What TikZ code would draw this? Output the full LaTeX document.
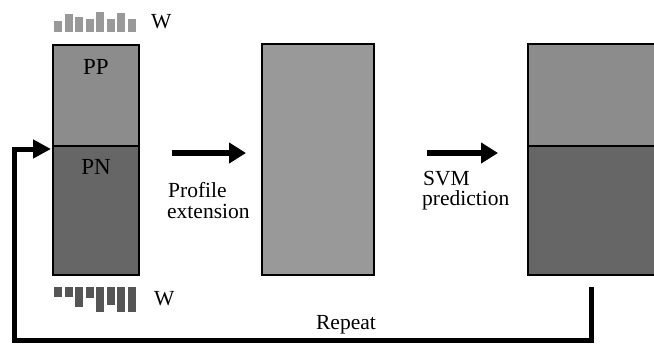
\documentclass[tikz,border=0pt]{standalone}
\usepackage{fontspec}
\setmainfont{Liberation Serif}
\usetikzlibrary{arrows.meta}
\definecolor{ppgray}{HTML}{8C8C8C}
\definecolor{pngray}{HTML}{666666}
\definecolor{midgray}{HTML}{999999}
\definecolor{bartop}{HTML}{999999}
\definecolor{barbot}{HTML}{555555}
\tikzset{
  boxpart/.style={draw=black, line width=2.5pt, rectangle, inner sep=0pt},
  lbl/.style={inner sep=0pt, font=\fontsize{21.5}{23}\selectfont},
  boxlbl/.style={inner sep=0pt, font=\fontsize{23}{25}\selectfont},
  bigarrow/.style={line width=6pt, -{Triangle[length=17pt,width=20pt]}},
  looparrow/.style={line width=5pt, -{Triangle[length=18pt,width=18pt]}},
  topbar/.style={fill=bartop, draw=none},
  botbar/.style={fill=barbot, draw=none}
}
\begin{document}
\begin{tikzpicture}[x=1pt,y=-1pt]
\useasboundingbox (0,0) rectangle (654,345);
% left box
\node[boxpart, fill=ppgray, minimum width=86pt, minimum height=101pt] (pp) at (96,95.5) {};
\node[boxpart, fill=pngray, minimum width=86pt, minimum height=129pt] (pn) at (96,210.5) {};
\node[boxlbl, anchor=base] (pplbl) at (96,75) {PP};
\node[boxlbl, anchor=base] (pnlbl) at (96,174) {PN};
% middle box
\node[boxpart, fill=midgray, minimum width=112pt, minimum height=231pt] (mid) at (318,159.5) {};
% right box
\node[boxpart, fill=ppgray, minimum width=132pt, minimum height=102pt] (rt) at (594,95) {};
\node[boxpart, fill=pngray, minimum width=132pt, minimum height=129pt] (rb) at (594,210.5) {};
% bars top
\foreach \i/\h in {0/11,1/18,2/15,3/13,4/20,5/13,6/19,7/13}{
  \fill[topbar] (54+\i*10.5,32) rectangle ++(8,-\h);
}
\node[lbl, anchor=base west] (wtop) at (151,29) {W};
% bars bottom
\foreach \i/\h in {0/10,1/10,2/20,3/11,4/25,5/18,6/25,7/25}{
  \fill[botbar] (54+\i*10.5,287) rectangle ++(8,\h);
}
\node[lbl, anchor=base west] (wbot) at (154,305) {W};
% arrows
\coordinate (a1s) at (172,153);
\coordinate (a1e) at (246,153);
\draw[bigarrow] (a1s) -- (a1e);
\node[lbl, anchor=base west] (prof1) at (168,197) {Profile};
\node[lbl, anchor=base west] (prof2) at (167,218) {extension};
\coordinate (a2s) at (427,153);
\coordinate (a2e) at (498,153);
\draw[bigarrow] (a2s) -- (a2e);
\node[lbl, anchor=base west] (svm1) at (423,185) {SVM};
\node[lbl, anchor=base west] (svm2) at (422,205) {prediction};
% loop
\coordinate (ls) at (591,287);
\coordinate (le) at (51,149);
\draw[looparrow] (ls) -- (591,340) -- (14.5,340) -- (14.5,149) -- (le);
\node[lbl, anchor=base] (rep) at (346,329) {Repeat};
\end{tikzpicture}
\end{document}
